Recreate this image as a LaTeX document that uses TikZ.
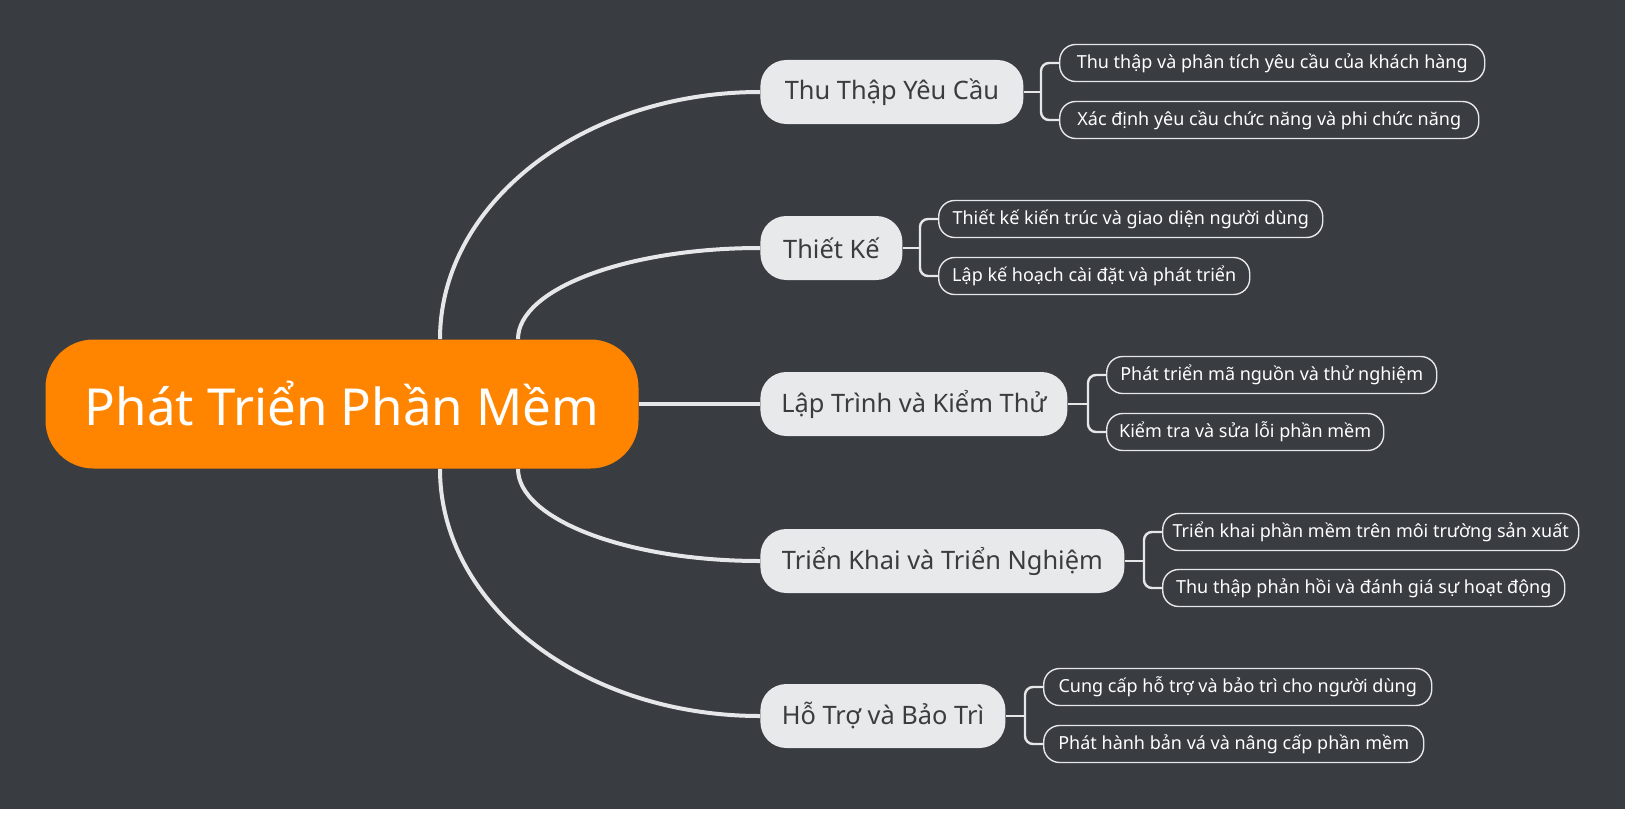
\documentclass[tikz,border=0pt]{standalone}
\usepackage{fontspec}
\setmainfont{Noto Sans}
\definecolor{slate}{HTML}{393C41}
\definecolor{amber}{HTML}{FF8500}
\definecolor{pale}{HTML}{E8E9EB}
\definecolor{ink}{HTML}{3C3C3C}
\definecolor{wire}{HTML}{E6E7E8}
\tikzset{root/.style={fill=amber,text=white,rounded corners=24pt,minimum height=64.5pt,minimum width=296.5pt,inner sep=0pt,font=\fontsize{25.5}{30}\selectfont},
  topic/.style={fill=pale,text=ink,rounded corners=13pt,minimum height=32pt,inner sep=0pt,anchor=west,font=\fontsize{12.7}{16}\selectfont},
  leaf/.style={draw=wire,line width=.7pt,text=white,rounded corners=8pt,minimum height=18.5pt,inner sep=0pt,anchor=west,font=\fontsize{9}{11}\selectfont},
  limb/.style={wire,line width=2pt},twig/.style={wire,line width=1.2pt,rounded corners=4pt}}
\begin{document}
\begin{tikzpicture}[x=.5pt,y=-.5pt]
\fill[white] (0,0) rectangle (1625,824);
\fill[slate] (0,0) rectangle (1625,809);
% noeud central
\node[root] (root) at (342,404) {Phát Triển Phần Mềm};
% branches
\node[topic,minimum width=131.5pt] (b1) at (760,92) {Thu Thập Yêu Cầu};
\node[topic,minimum width=71pt] (b2) at (760,248) {Thiết Kế};
\node[topic,minimum width=153.5pt] (b3) at (760,404) {Lập Trình và Kiểm Thử};
\node[topic,minimum width=182pt] (b4) at (760,561) {Triển Khai và Triển Nghiệm};
\node[topic,minimum width=122.5pt] (b5) at (760,716) {Hỗ Trợ và Bảo Trì};
% feuilles
\node[leaf,minimum width=212.5pt] (l1a) at (1059,63) {Thu thập và phân tích yêu cầu của khách hàng};
\node[leaf,minimum width=209.5pt] (l1b) at (1059,120) {Xác định yêu cầu chức năng và phi chức năng};
\node[leaf,minimum width=192pt] (l2a) at (938,219) {Thiết kế kiến trúc và giao diện người dùng};
\node[leaf,minimum width=155.5pt] (l2b) at (938,276) {Lập kế hoạch cài đặt và phát triển};
\node[leaf,minimum width=165pt] (l3a) at (1106,375) {Phát triển mã nguồn và thử nghiệm};
\node[leaf,minimum width=138.5pt] (l3b) at (1106,432) {Kiểm tra và sửa lỗi phần mềm};
\node[leaf,minimum width=208pt] (l4a) at (1162,532) {Triển khai phần mềm trên môi trường sản xuất};
\node[leaf,minimum width=201pt] (l4b) at (1162,588) {Thu thập phản hồi và đánh giá sự hoạt động};
\node[leaf,minimum width=194pt] (l5a) at (1043,687) {Cung cấp hỗ trợ và bảo trì cho người dùng};
\node[leaf,minimum width=190pt] (l5b) at (1043,744) {Phát hành bản vá và nâng cấp phần mềm};
% liaisons centre -> branches
\draw[limb] ([xshift=49pt]root.north) .. controls +(0,-136) and +(-177,0) .. (b1.west);
\draw[limb] ([xshift=88pt]root.north) .. controls +(0,-50) and +(-134,0) .. (b2.west);
\draw[limb] (root.east) -- (b3.west);
\draw[limb] ([xshift=88pt]root.south) .. controls +(0,50) and +(-134,0) .. (b4.west);
\draw[limb] ([xshift=49pt]root.south) .. controls +(0,137) and +(-177,0) .. (b5.west);
% accolades branches -> feuilles
\foreach \b in {1,...,5}{
  \draw[twig] (b\b.east) -- ([xshift=-9pt]l\b a.west |- b\b.east);
  \draw[twig] (l\b a.west) -- ++(-18,0) -- ([xshift=-9pt]l\b b.west) -- (l\b b.west);
}
\end{tikzpicture}
\end{document}
